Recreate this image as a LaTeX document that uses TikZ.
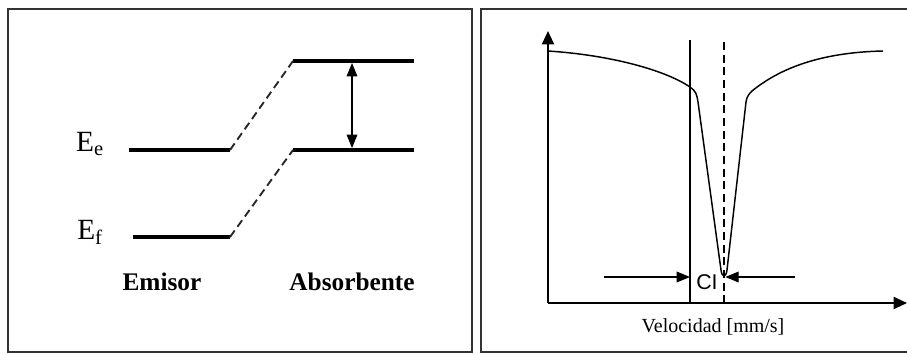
\documentclass[tikz,border=0pt]{standalone}
\usepackage{fontspec}
\setmainfont{Liberation Serif}
\newfontfamily\cisans{Liberation Sans}
\usepackage{tikz}
\usetikzlibrary{positioning,arrows.meta,calc}
\tikzset{
    panel/.style={draw=black!80, line width=1.5pt},
    level/.style={draw=black, line width=3pt},
    shiftline/.style={draw=black!85, line width=1.4pt, dash pattern=on 6pt off 3.5pt},
    gaparrow/.style={{Triangle[width=8pt,length=10pt]}-{Triangle[width=8pt,length=10pt]}, line width=0.8pt},
    axis/.style={-{Triangle[width=9pt,length=10pt]}, line width=1.5pt},
    guide/.style={draw=black, line width=1pt},
    ciarrow/.style={-{Triangle[width=8pt,length=10pt]}, line width=1pt},
    energy/.style={font=\fontsize{22}{26}\selectfont},
    side/.style={font=\fontsize{19}{22}\selectfont\bfseries},
    curve/.style={draw=black, line width=1.1pt}
}

\begin{document}
\begin{tikzpicture}[x=0.75pt, y=-0.75pt]
\useasboundingbox (0,0) rectangle (907,354);

% Panels
\draw[panel] (8,9) rectangle (472,352);
\draw[panel] (908,9) -- (481,9) -- (481,352) -- (908,352);

% Energy levels
\coordinate (emUpW) at (129,150);
\coordinate (emUpE) at (230,150);
\coordinate (emLoW) at (133,237);
\coordinate (emLoE) at (230,237);
\coordinate (abUpW) at (293,61);
\coordinate (abUpE) at (414,61);
\coordinate (abLoW) at (293,150);
\coordinate (abLoE) at (414,150);
\draw[level] (emUpW) -- (emUpE);
\draw[level] (emLoW) -- (emLoE);
\draw[level] (abUpW) -- (abUpE);
\draw[level] (abLoW) -- (abLoE);

% Shift of the levels
\draw[shiftline] (emUpE) -- (abUpW);
\draw[shiftline] (emLoE) -- (abLoW);

% Transition
\coordinate (gapTop) at (352,63);
\coordinate (gapBot) at (352,148);
\draw[gaparrow] (gapTop) -- (gapBot);

% Labels
\node[energy] (ee) at (90,144) {E\textsubscript{e}};
\node[energy] (ef) at (90,232) {E\textsubscript{f}};
\node[side] (emisor) at (162,282) {Emisor};
\node[side] (absorb) at (352,282) {Absorbente};

% Axes
\coordinate (origin) at (548,303);
\coordinate (yTip) at (548,31);
\coordinate (xTip) at (907,303);
\draw[axis] (origin) -- (yTip);
\draw[axis] (origin) -- (xTip);

% Reference lines
\coordinate (zeroTop) at (690,40);
\coordinate (zeroBot) at (690,303);
\coordinate (shiftTop) at (724,42);
\coordinate (shiftBot) at (724,303);
\draw[guide] (zeroTop) -- (zeroBot);
\draw[guide, dash pattern=on 6pt off 3.5pt] (shiftTop) -- (shiftBot);

% Absorption line
\draw[curve] (548,51) .. controls (610,55) and (665,70) .. (690,87)
    .. controls (696,91) and (697,95) .. (698,102) -- (721,270)
    .. controls (722,278) and (726,278) .. (727,270) -- (746,102)
    .. controls (747,96) and (749,94) .. (752,91)
    .. controls (790,60) and (840,52) .. (883,51);

% Isomer shift
\coordinate (ciL) at (604,277);
\coordinate (ciR) at (795,277);
\draw[ciarrow] (ciL) -- (zeroTop |- ciL);
\draw[ciarrow] (ciR) -- ([xshift=1pt]shiftTop |- ciR);
\node[font=\cisans\fontsize{16}{18}\selectfont] (ci) at (707,282) {CI};
\node[font=\fontsize{15}{18}\selectfont] (vel) at (713,327) {Velocidad [mm/s]};

\end{tikzpicture}
\end{document}
